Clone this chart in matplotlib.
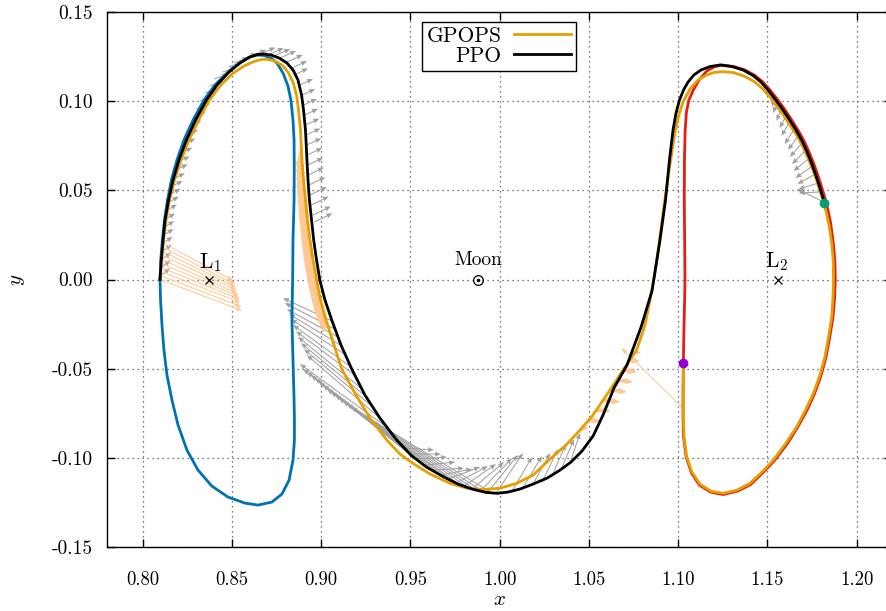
import matplotlib
matplotlib.use('Agg')
import matplotlib.pyplot as plt
import numpy as np

plt.rcParams['font.family'] = 'cmr10'
plt.rcParams['mathtext.fontset'] = 'cm'
plt.rcParams['axes.unicode_minus'] = False

# Lagrange points and the Moon
L1 = (0.8369, 0.0)
L2 = (1.1557, 0.0)
MOON = (0.98785, 0.0)

# L1 Lyapunov orbit (departure)
l1_x = [0.8097, 0.8101, 0.8110, 0.8122, 0.8139, 0.8161, 0.8192, 0.8231, 0.8282, 0.8343,
        0.8405, 0.8478, 0.8551, 0.8601, 0.8640, 0.8680, 0.8719, 0.8752, 0.8786, 0.8814,
        0.8831, 0.8842, 0.8848, 0.8849, 0.8848, 0.8842, 0.8840, 0.8836, 0.8842, 0.8848,
        0.8850, 0.8850, 0.8842, 0.8820, 0.8780, 0.8724, 0.8646, 0.8573, 0.8478, 0.8388,
        0.8310, 0.8248, 0.8198, 0.8164, 0.8136, 0.8119, 0.8108, 0.8100, 0.8097]
l1_y = [0.0, 0.0109, 0.0221, 0.0333, 0.0446, 0.0558, 0.0670, 0.0782, 0.0894, 0.1006,
        0.1091, 0.1163, 0.1220, 0.1248, 0.1259, 0.1256, 0.1242, 0.1214, 0.1158, 0.1085,
        0.1001, 0.0894, 0.0782, 0.0614, 0.0446, 0.0221, -0.0006, -0.0227, -0.0452, -0.0676,
        -0.0788, -0.0900, -0.1013, -0.1125, -0.1203, -0.1248, -0.1265, -0.1254, -0.1220, -0.1159,
        -0.1069, -0.0957, -0.0816, -0.0676, -0.0536, -0.0396, -0.0255, -0.0115, 0.0]

# L2 Lyapunov orbit (arrival)
l2_x = [1.1029, 1.1032, 1.1036, 1.1038, 1.1036, 1.1034, 1.1035, 1.1039, 1.1046, 1.1060,
        1.1085, 1.1117, 1.1160, 1.1201, 1.1245, 1.1313, 1.1374, 1.1430, 1.1475, 1.1514,
        1.1554, 1.1593, 1.1632, 1.1671, 1.1705, 1.1733, 1.1758, 1.1780, 1.1800, 1.1817,
        1.1831, 1.1853, 1.1869, 1.1878, 1.1880, 1.1876, 1.1867, 1.1849, 1.1828, 1.1800,
        1.1763, 1.1719, 1.1668, 1.1610, 1.1537, 1.1472, 1.1405, 1.1331, 1.1252, 1.1181,
        1.1119, 1.1075, 1.1045, 1.1030, 1.1027, 1.1027, 1.1029]
l2_y = [-0.0467, -0.0284, -0.0115, 0.0, 0.0221, 0.0446, 0.0670, 0.0838, 0.0939, 0.1006,
        0.1063, 0.1119, 0.1169, 0.1192, 0.1203, 0.1194, 0.1175, 0.1144, 0.1107, 0.1063,
        0.1012, 0.0959, 0.0900, 0.0838, 0.0777, 0.0715, 0.0653, 0.0591, 0.0530, 0.0474,
        0.0427, 0.0322, 0.0203, 0.0098, -0.0006, -0.0104, -0.0211, -0.0323, -0.0435, -0.0539,
        -0.0642, -0.0738, -0.0830, -0.0923, -0.1018, -0.1086, -0.1150, -0.1187, -0.1206, -0.1192,
        -0.1153, -0.1086, -0.0996, -0.0884, -0.0771, -0.0620, -0.0467]

# PPO transfer
ppo_x = [0.8097, 0.8104, 0.8114, 0.8125, 0.8145, 0.8170, 0.8203, 0.8245, 0.8296, 0.8357,
         0.8416, 0.8483, 0.8545, 0.8601, 0.8646, 0.8680, 0.8719, 0.8764, 0.8808, 0.8842,
         0.8870, 0.8890, 0.8901, 0.8912, 0.8920, 0.8926, 0.8934, 0.8946, 0.8958, 0.8974,
         0.8993, 0.9021, 0.9059, 0.9111, 0.9171, 0.9245, 0.9329, 0.9423, 0.9503, 0.9587,
         0.9677, 0.9766, 0.9845, 0.9923, 0.9985, 1.0047, 1.0114, 1.0187, 1.0265, 1.0338,
         1.0399, 1.0461, 1.0523, 1.0579, 1.0640, 1.0713, 1.0792, 1.0853, 1.0898, 1.0929,
         1.0951, 1.0971, 1.0988, 1.1007, 1.1030, 1.1055, 1.1088, 1.1128, 1.1178, 1.1234,
         1.1301, 1.1363, 1.1419, 1.1464, 1.1503, 1.1542, 1.1581, 1.1621, 1.1660, 1.1694,
         1.1722, 1.1747, 1.1769, 1.1789, 1.1806, 1.1819]
ppo_y = [0.0, 0.0109, 0.0221, 0.0333, 0.0446, 0.0558, 0.0670, 0.0782, 0.0894, 0.1006,
         0.1091, 0.1163, 0.1214, 0.1248, 0.1262, 0.1264, 0.1259, 0.1242, 0.1214, 0.1175,
         0.1119, 0.1034, 0.0950, 0.0838, 0.0670, 0.0558, 0.0446, 0.0333, 0.0221, 0.0109,
         -0.0006, -0.0115, -0.0227, -0.0368, -0.0502, -0.0648, -0.0777, -0.0900, -0.0985, -0.1050,
         -0.1102, -0.1147, -0.1175, -0.1194, -0.1199, -0.1192, -0.1175, -0.1147, -0.1114, -0.1069,
         -0.1024, -0.0962, -0.0878, -0.0760, -0.0609, -0.0480, -0.0267, -0.0065, 0.0221, 0.0446,
         0.0670, 0.0838, 0.0934, 0.1006, 0.1063, 0.1107, 0.1147, 0.1175, 0.1194, 0.1203,
         0.1194, 0.1175, 0.1144, 0.1107, 0.1063, 0.1012, 0.0959, 0.0900, 0.0838, 0.0777,
         0.0715, 0.0653, 0.0591, 0.0530, 0.0474, 0.0430]

# GPOPS transfer
gp_x = [0.8097, 0.8104, 0.8117, 0.8131, 0.8150, 0.8178, 0.8215, 0.8259, 0.8313, 0.8374,
        0.8433, 0.8500, 0.8567, 0.8629, 0.8668, 0.8702, 0.8741, 0.8780, 0.8814, 0.8842,
        0.8862, 0.8873, 0.8884, 0.8892, 0.8901, 0.8912, 0.8923, 0.8937, 0.8954, 0.8975,
        0.8996, 0.9027, 0.9072, 0.9115, 0.9195, 0.9273, 0.9367, 0.9441, 0.9520, 0.9610,
        0.9722, 0.9817, 0.9908, 1.0002, 1.0095, 1.0187, 1.0282, 1.0371, 1.0450, 1.0518,
        1.0580, 1.0640, 1.0702, 1.0767, 1.0814, 1.0842, 1.0866, 1.0892, 1.0917, 1.0937,
        1.0958, 1.0979, 1.1001, 1.1027, 1.1066, 1.1111, 1.1160, 1.1201, 1.1244, 1.1307,
        1.1369, 1.1425, 1.1469, 1.1509, 1.1548, 1.1587, 1.1626, 1.1666, 1.1699, 1.1727,
        1.1752, 1.1775, 1.1794, 1.1811, 1.1822, 1.1845, 1.1860, 1.1869, 1.1870, 1.1867,
        1.1860, 1.1842, 1.1822, 1.1794, 1.1757, 1.1713, 1.1664, 1.1604, 1.1533, 1.1469,
        1.1402, 1.1329, 1.1253, 1.1184, 1.1122, 1.1077, 1.1048, 1.1033, 1.1029, 1.1029,
        1.1029]
gp_y = [0.0, 0.0109, 0.0221, 0.0333, 0.0446, 0.0558, 0.0670, 0.0782, 0.0894, 0.1006,
        0.1085, 0.1152, 0.1197, 0.1225, 0.1234, 0.1234, 0.1225, 0.1203, 0.1163, 0.1107,
        0.1034, 0.0950, 0.0838, 0.0670, 0.0558, 0.0446, 0.0333, 0.0221, 0.0109, -0.0006,
        -0.0115, -0.0227, -0.0368, -0.0502, -0.0648, -0.0777, -0.0900, -0.0979, -0.1035, -0.1091,
        -0.1143, -0.1170, -0.1178, -0.1170, -0.1143, -0.1097, -0.1007, -0.0929, -0.0844, -0.0766,
        -0.0676, -0.0586, -0.0491, -0.0396, -0.0255, -0.0115, 0.0015, 0.0193, 0.0389, 0.0530,
        0.0670, 0.0810, 0.0913, 0.0995, 0.1068, 0.1119, 0.1147, 0.1161, 0.1165, 0.1161,
        0.1141, 0.1110, 0.1074, 0.1029, 0.0978, 0.0925, 0.0866, 0.0805, 0.0743, 0.0681,
        0.0619, 0.0558, 0.0496, 0.0446, 0.0408, 0.0305, 0.0203, 0.0098, -0.0006, -0.0104,
        -0.0209, -0.0323, -0.0433, -0.0536, -0.0639, -0.0732, -0.0826, -0.0917, -0.1013, -0.1080,
        -0.1143, -0.1181, -0.1199, -0.1187, -0.1147, -0.1080, -0.0994, -0.0884, -0.0770, -0.0620,
        -0.0467]

# PPO thrust, left arc and first descent: tails and components
ppo_a_x = [0.8098, 0.8100, 0.8103, 0.8105, 0.8108, 0.8112, 0.8115, 0.8119, 0.8129, 0.8138,
           0.8147, 0.8157, 0.8169, 0.8184, 0.8195, 0.8210, 0.8226, 0.8240, 0.8258, 0.8281,
           0.8301, 0.8321, 0.8349, 0.8377, 0.8401, 0.8447, 0.8482, 0.8511, 0.8556, 0.8607,
           0.8657, 0.8702, 0.8736, 0.8769, 0.8808, 0.8836, 0.8848, 0.8881, 0.8892, 0.8901,
           0.8906, 0.8911, 0.8915, 0.8918, 0.8922, 0.8924, 0.8927, 0.8932, 0.8937, 0.8945,
           0.8954, 0.8962]
ppo_a_y = [0.0019, 0.0064, 0.0109, 0.0154, 0.0199, 0.0244, 0.0289, 0.0333, 0.0384, 0.0429,
           0.0474, 0.0519, 0.0563, 0.0614, 0.0659, 0.0709, 0.0760, 0.0810, 0.0861, 0.0911,
           0.0956, 0.1001, 0.1046, 0.1085, 0.1124, 0.1163, 0.1192, 0.1214, 0.1236, 0.1253,
           0.1264, 0.1259, 0.1253, 0.1242, 0.1220, 0.1186, 0.1147, 0.1091, 0.1034, 0.0978,
           0.0922, 0.0866, 0.0810, 0.0754, 0.0698, 0.0642, 0.0586, 0.0530, 0.0474, 0.0418,
           0.0361, 0.0322]
ppo_a_u = [0.0056, 0.0056, 0.0057, 0.0058, 0.0059, 0.0060, 0.0061, 0.0062, 0.0063, 0.0064,
           0.0065, 0.0066, 0.0067, 0.0067, 0.0068, 0.0068, 0.0069, 0.0070, 0.0071, 0.0072,
           0.0073, 0.0074, 0.0075, 0.0076, 0.0077, 0.0078, 0.0079, 0.0080, 0.0082, 0.0084,
           0.0086, 0.0088, 0.0090, 0.0090, 0.0088, 0.0084, 0.0078, 0.0073, 0.0074, 0.0075,
           0.0076, 0.0078, 0.0080, 0.0082, 0.0084, 0.0086, 0.0088, 0.0091, 0.0094, 0.0097,
           0.0100, 0.0101]
ppo_a_v = [0.0045, 0.0044, 0.0043, 0.0042, 0.0041, 0.0040, 0.0039, 0.0038, 0.0037, 0.0036,
           0.0035, 0.0034, 0.0033, 0.0032, 0.0031, 0.0030, 0.0030, 0.0029, 0.0029, 0.0028,
           0.0028, 0.0028, 0.0028, 0.0028, 0.0028, 0.0029, 0.0030, 0.0031, 0.0033, 0.0035,
           0.0037, 0.0039, 0.0040, 0.0040, 0.0040, 0.0039, 0.0037, 0.0034, 0.0034, 0.0035,
           0.0035, 0.0036, 0.0037, 0.0038, 0.0039, 0.0040, 0.0042, 0.0043, 0.0045, 0.0047,
           0.0049, 0.0050]

# PPO thrust, lower arc (pointing back up-left)
ppo_b_x = [0.9061, 0.9077, 0.9094, 0.9117, 0.9139, 0.9167, 0.9195, 0.9229, 0.9262, 0.9296,
           0.9335, 0.9374, 0.9419, 0.9464, 0.9509, 0.9553, 0.9598, 0.9643, 0.9688, 0.9733,
           0.9778, 0.9822, 0.9867, 0.9912, 0.9957]
ppo_b_y = [-0.0233, -0.0278, -0.0323, -0.0373, -0.0424, -0.0491, -0.0542, -0.0614, -0.0665, -0.0721,
           -0.0783, -0.0833, -0.0895, -0.0945, -0.0990, -0.1024, -0.1057, -0.1086, -0.1108, -0.1130,
           -0.1153, -0.1167, -0.1181, -0.1192, -0.1198]
ppo_b_u = [-0.0275, -0.0280, -0.0286, -0.0297, -0.0308, -0.0325, -0.0336, -0.0359, -0.0375, -0.0392,
           -0.0415, -0.0493, -0.0521, -0.0543, -0.0566, -0.0588, -0.0611, -0.0633, -0.0655, -0.0678,
           -0.0700, -0.0723, -0.0745, -0.0768, -0.0790]
ppo_b_v = [0.0129, 0.0146, 0.0157, 0.0179, 0.0202, 0.0236, 0.0252, 0.0292, 0.0308, 0.0331,
           0.0359, 0.0359, 0.0393, 0.0426, 0.0454, 0.0471, 0.0482, 0.0494, 0.0494, 0.0499,
           0.0505, 0.0502, 0.0499, 0.0494, 0.0482]

# PPO thrust, bottom of the transfer (turning from east to north)
ppo_c_x = [0.9464, 0.9497, 0.9531, 0.9576, 0.9621, 0.9666, 0.9710, 0.9755, 0.9800, 0.9845,
           0.9890, 0.9934, 0.9979, 1.0069, 1.0125, 1.0181, 1.0237, 1.0293, 1.0343, 1.0394]
ppo_c_y = [-0.0945, -0.0979, -0.1007, -0.1041, -0.1069, -0.1097, -0.1119, -0.1142, -0.1158, -0.1175,
           -0.1187, -0.1192, -0.1198, -0.1187, -0.1175, -0.1158, -0.1136, -0.1102, -0.1069, -0.1029]
ppo_c_u = [0.0168, 0.0174, 0.0174, 0.0174, 0.0179, 0.0179, 0.0179, 0.0179, 0.0179, 0.0179,
           0.0179, 0.0168, 0.0151, 0.0112, 0.0112, 0.0101, 0.0090, 0.0078, 0.0073, 0.0056]
ppo_c_v = [-0.0011, 0.0, 0.0011, 0.0017, 0.0011, 0.0034, 0.0067, 0.0095, 0.0123, 0.0151,
           0.0185, 0.0208, 0.0224, 0.0191, 0.0185, 0.0185, 0.0185, 0.0179, 0.0174, 0.0168]

# PPO thrust, last arc before insertion
ppo_d_x = [1.1534, 1.1554, 1.1579, 1.1607, 1.1628, 1.1653, 1.1677, 1.1699, 1.1716, 1.1736,
           1.1752, 1.1769, 1.1786, 1.1800, 1.1817]
ppo_d_y = [0.1023, 0.0995, 0.0962, 0.0922, 0.0889, 0.0849, 0.0810, 0.0771, 0.0726, 0.0681,
           0.0636, 0.0592, 0.0541, 0.0491, 0.0434]
ppo_d_u = [-0.0006, -0.0022, -0.0028, -0.0039, -0.0050, -0.0056, -0.0062, -0.0073, -0.0078, -0.0090,
           -0.0095, -0.0101, -0.0112, -0.0123, -0.0151]
ppo_d_v = [-0.0056, -0.0062, -0.0073, -0.0073, -0.0084, -0.0090, -0.0084, -0.0084, -0.0079, -0.0073,
           -0.0067, -0.0056, -0.0034, -0.0006, 0.0073]

# GPOPS thrust, departure burn
gp_a_x = [0.8097, 0.8099, 0.8101, 0.8103, 0.8105, 0.8108, 0.8111, 0.8114, 0.8117, 0.8119]
gp_a_y = [0.0, 0.0022, 0.0045, 0.0067, 0.0090, 0.0112, 0.0135, 0.0157, 0.0179, 0.0202]
gp_a_u = [0.0459, 0.0452, 0.0447, 0.0443, 0.0434, 0.0426, 0.0417, 0.0409, 0.0401, 0.0387]
gp_a_v = [-0.0174, -0.0174, -0.0174, -0.0179, -0.0185, -0.0191, -0.0196, -0.0202, -0.0208, -0.0208]

# GPOPS thrust, descent on the inner side
gp_b_x = [0.8890, 0.8892, 0.8894, 0.8896, 0.8900, 0.8903, 0.8908, 0.8911, 0.8915, 0.8919,
          0.8923, 0.8928, 0.8933, 0.8938, 0.8944, 0.8950, 0.8956, 0.8964, 0.8971, 0.8979,
          0.8986, 0.8993, 0.9002, 0.9013, 0.9024]
gp_b_y = [0.0726, 0.0687, 0.0648, 0.0608, 0.0569, 0.0530, 0.0491, 0.0451, 0.0412, 0.0373,
          0.0333, 0.0294, 0.0255, 0.0216, 0.0176, 0.0137, 0.0098, 0.0059, 0.0019, -0.0020,
          -0.0059, -0.0098, -0.0137, -0.0177, -0.0216]
gp_b_u = [-0.0024, -0.0025, -0.0026, -0.0027, -0.0028, -0.0028, -0.0029, -0.0029, -0.0029, -0.0029,
          -0.0029, -0.0029, -0.0029, -0.0029, -0.0029, -0.0028, -0.0028, -0.0027, -0.0026, -0.0025,
          -0.0024, -0.0022, -0.0020, -0.0018, -0.0016]
gp_b_v = [-0.0110, -0.0115, -0.0120, -0.0125, -0.0128, -0.0130, -0.0132, -0.0134, -0.0135, -0.0135,
          -0.0135, -0.0135, -0.0135, -0.0135, -0.0135, -0.0134, -0.0132, -0.0130, -0.0128, -0.0125,
          -0.0120, -0.0112, -0.0104, -0.0095, -0.0085]

# GPOPS thrust, climb toward L2
gp_c_x = [1.0455, 1.0500, 1.0539, 1.0579, 1.0618, 1.0657, 1.0691, 1.0730, 1.0758]
gp_c_y = [-0.0833, -0.0788, -0.0732, -0.0676, -0.0620, -0.0564, -0.0508, -0.0452, -0.0407]
gp_c_u = [0.0045, 0.0067, 0.0084, 0.0095, 0.0095, 0.0090, 0.0078, 0.0056, 0.0034]
gp_c_v = [0.0, -0.0006, -0.0006, -0.0011, -0.0011, -0.0011, -0.0011, -0.0006, -0.0006]

# GPOPS insertion burn
gp_d_x = [1.1020]
gp_d_y = [-0.0714]
gp_d_u = [-0.0337]
gp_d_v = [0.0328]

# End points of both transfers
gp_end = (1.1029, -0.0467)
ppo_end = (1.1819, 0.0430)

xticks = [0.80, 0.85, 0.90, 0.95, 1.00, 1.05, 1.10, 1.15, 1.20]
xtick_labels = ['0.80', '0.85', '0.90', '0.95', '1.00', '1.05', '1.10', '1.15', '1.20']
yticks = [0.15, 0.10, 0.05, 0.00, -0.05, -0.10, -0.15]
ytick_labels = ['0.15', '0.10', '0.05', '0.00', '-0.05', '-0.10', '-0.15']

C_BLUE = '#0072b2'
C_ORANGE = '#e69f00'
C_RED = '#e51e10'
C_PEACH = '#fec895'
C_GRAY = '#a0a0a0'

fig = plt.figure(figsize=(8.86, 6.11), dpi=100)
ax = fig.add_axes([107 / 886, 64 / 611, 785.4 / 886, 535 / 611])

thin = dict(angles='xy', scale_units='xy', scale=1, width=0.0013,
            headwidth=5, headlength=6, headaxislength=5.5, zorder=2)
thick = dict(angles='xy', scale_units='xy', scale=1, width=0.0048,
             headwidth=1.8, headlength=2.2, headaxislength=2.0, zorder=2)

for tx, ty, tu, tv in [(ppo_a_x, ppo_a_y, ppo_a_u, ppo_a_v),
                       (ppo_b_x, ppo_b_y, ppo_b_u, ppo_b_v),
                       (ppo_c_x, ppo_c_y, ppo_c_u, ppo_c_v),
                       (ppo_d_x, ppo_d_y, ppo_d_u, ppo_d_v)]:
    ax.quiver(tx, ty, tu, tv, color=C_GRAY, **thin)
ax.quiver(gp_a_x, gp_a_y, gp_a_u, gp_a_v, color=C_PEACH, **thin)
ax.quiver(gp_b_x, gp_b_y, gp_b_u, gp_b_v, color=C_PEACH, **thick)
ax.quiver(gp_c_x, gp_c_y, gp_c_u, gp_c_v, color=C_PEACH, **thick)
ax.quiver(gp_d_x, gp_d_y, gp_d_u, gp_d_v, color=C_PEACH, **thin)

ax.plot(l1_x, l1_y, color=C_BLUE, lw=2.0, zorder=3)
ax.plot(l2_x, l2_y, color=C_RED, lw=2.0, zorder=3)
ax.plot(gp_x, gp_y, color=C_ORANGE, lw=2.0, zorder=4, label='GPOPS')
ax.plot(ppo_x, ppo_y, color='black', lw=2.0, zorder=5, label='PPO')

ax.plot(*gp_end, 'o', color='#9400d3', ms=6, zorder=6)
ax.plot(*ppo_end, 'o', color='#009e73', ms=6, zorder=6)

ax.plot(*L1, 'x', color='black', ms=6, mew=0.9, zorder=6)
ax.plot(*L2, 'x', color='black', ms=6, mew=0.9, zorder=6)
ax.plot(*MOON, 'o', mfc='none', mec='black', ms=7, mew=0.9, zorder=6)
ax.plot(*MOON, 'o', color='black', ms=1.5, zorder=6)
ax.text(0.8377, 0.0095, r'L$_1$', ha='center', va='center', fontsize=15.5)
ax.text(1.1553, 0.0101, r'L$_2$', ha='center', va='center', fontsize=15.5)
ax.text(MOON[0], 0.0107, 'Moon', ha='center', va='center', fontsize=14)

ax.set_xlim(0.78, 1.22)
ax.set_ylim(-0.15, 0.15)
ax.set_xticks(xticks)
ax.set_xticklabels(xtick_labels)
ax.set_yticks(yticks)
ax.set_yticklabels(ytick_labels)
ax.tick_params(direction='in', top=True, right=True, length=6, width=1, labelsize=13.5)
ax.tick_params(axis='x', pad=17)
ax.tick_params(axis='y', pad=10, labelsize=14)
ax.grid(True, color='0.3', linestyle=(0, (1, 3)), lw=0.9)
for sp in ax.spines.values():
    sp.set_linewidth(1.0)
ax.set_xlabel('$x$', fontsize=15, labelpad=2)
ax.set_ylabel('$y$', fontsize=15, labelpad=18)

leg = ax.legend(loc='upper center', bbox_to_anchor=(0.499, 0.982), borderaxespad=0,
                markerfirst=False, fancybox=False, framealpha=1, edgecolor='black',
                fontsize=15.5, handlelength=2.65, borderpad=0.22, labelspacing=0.02,
                handletextpad=0.6)
leg.get_frame().set_linewidth(1.0)

fig.savefig('out.png', dpi=100)
